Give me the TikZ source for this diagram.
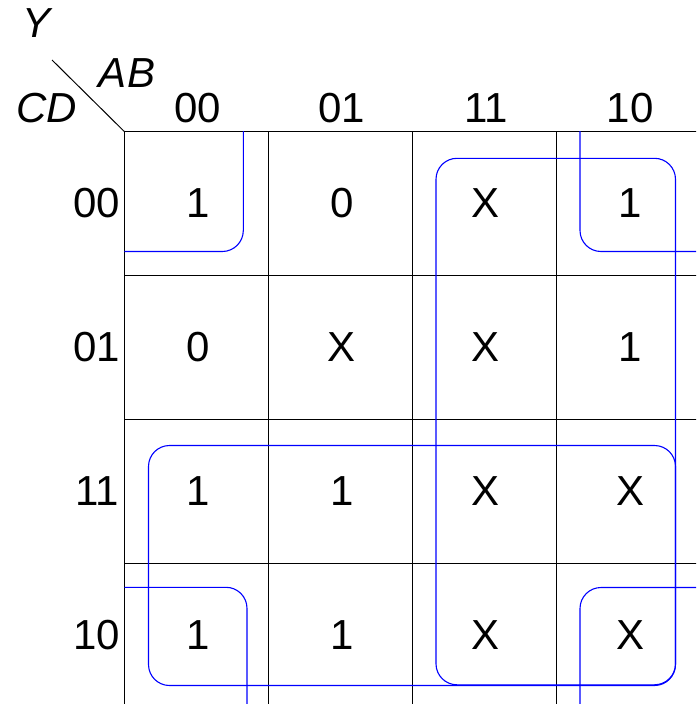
\documentclass[tikz,border=0pt]{standalone}
\usepackage{fontspec}
\setmainfont{Liberation Sans}
\begin{document}
\begin{tikzpicture}[x=1pt,y=-1pt,
  lbl/.style={inner sep=0pt, font=\fontsize{42}{50}\selectfont},
  ital/.style={inner sep=0pt, font=\fontsize{42}{50}\selectfont\itshape},
  gridline/.style={black, line width=1pt},
  kloop/.style={blue, line width=1.1pt, rounded corners=21pt}]
\useasboundingbox (0,0) rectangle (696,704);
% grid
\begin{scope}
\clip (0,0) rectangle (696,704);
\foreach \i in {0,...,4} {
  \draw[gridline] (124.3+144*\i,131.5) -- (124.3+144*\i,712);
  \draw[gridline] (124.3,131.5+144*\i) -- (704,131.5+144*\i);
}
\end{scope}
% diagonal
\coordinate (dstart) at (52,60);
\coordinate (dend) at (124.3,131.5);
\draw[gridline] (dstart) -- (dend);
% corner labels
\node[ital] (y) at (37,23) {Y};
\node[ital] (ab) at (127,73) {AB};
\node[ital] (cd) at (47,108) {CD};
% column headers
\node[lbl] (c0) at (198,108) {00};
\node[lbl] (c1) at (342,108) {01};
\node[lbl] (c2) at (486,108) {11};
\node[lbl] (c3) at (630,108) {10};
% row headers
\node[lbl] (r0) at (97,203) {00};
\node[lbl] (r1) at (97,347) {01};
\node[lbl] (r2) at (97,491) {11};
\node[lbl] (r3) at (97,635) {10};
% cells
\node[lbl] (m00) at (198,203) {1};
\node[lbl] (m01) at (342,203) {0};
\node[lbl] (m02) at (486,203) {X};
\node[lbl] (m03) at (630,203) {1};
\node[lbl] (m10) at (198,347) {0};
\node[lbl] (m11) at (342,347) {X};
\node[lbl] (m12) at (486,347) {X};
\node[lbl] (m13) at (630,347) {1};
\node[lbl] (m20) at (198,491) {1};
\node[lbl] (m21) at (342,491) {1};
\node[lbl] (m22) at (486,491) {X};
\node[lbl] (m23) at (630,491) {X};
\node[lbl] (m30) at (198,635) {1};
\node[lbl] (m31) at (342,635) {1};
\node[lbl] (m32) at (486,635) {X};
\node[lbl] (m33) at (630,635) {X};
% loops
\begin{scope}
\clip (124.3,131.5) rectangle (696,704);
\draw[kloop] (40,40) rectangle (243.3,251.5);
\draw[kloop] (580,40) rectangle (800,251.5);
\draw[kloop] (40,587.3) rectangle (247,800);
\draw[kloop] (580,587.5) rectangle (800,800);
\end{scope}
\draw[kloop] (436,158.3) rectangle (675.5,684.8);
\draw[kloop] (148.5,445.5) rectangle (675.5,685.5);
\end{tikzpicture}
\end{document}
